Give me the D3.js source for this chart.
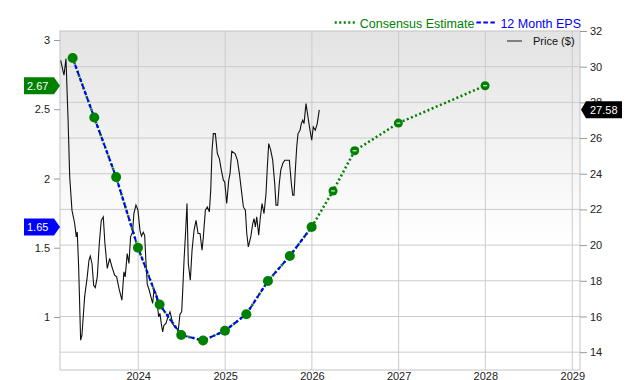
<!DOCTYPE html>
<html>
<head>
<meta charset="utf-8">
<script src="https://cdn.jsdelivr.net/npm/d3@7"></script>
<style>
  body { margin: 0; background: #fff; }
  svg { font-family: "Liberation Sans", Arial, sans-serif; display: block; }
  .axis text { font-size: 11px; fill: #222; }
  .axis line { stroke: #999; }
  .axis path { display: none; }
</style>
</head>
<body>
<div id="container"></div>
<script>
/* DATA */
// price trace, decimal years and $ values
const priceYears = [2023.106, 2023.144, 2023.167, 2023.190, 2023.210, 2023.236, 2023.267, 2023.286, 2023.297, 2023.313,
  2023.336, 2023.351, 2023.382, 2023.412, 2023.432, 2023.447, 2023.467, 2023.486, 2023.505, 2023.528,
  2023.551, 2023.574, 2023.597, 2023.616, 2023.643, 2023.671, 2023.697, 2023.728, 2023.751, 2023.778,
  2023.812, 2023.835, 2023.850, 2023.873, 2023.893, 2023.912, 2023.935, 2023.950, 2023.974, 2023.997,
  2024.020, 2024.037, 2024.058, 2024.074, 2024.089, 2024.104, 2024.127, 2024.146, 2024.166, 2024.181,
  2024.204, 2024.219, 2024.235, 2024.250, 2024.265, 2024.281, 2024.296, 2024.319, 2024.342, 2024.365,
  2024.380, 2024.396, 2024.419, 2024.442, 2024.461, 2024.480, 2024.500, 2024.512, 2024.527, 2024.546,
  2024.561, 2024.576, 2024.599, 2024.619, 2024.642, 2024.665, 2024.688, 2024.711, 2024.734, 2024.749,
  2024.772, 2024.795, 2024.818, 2024.834, 2024.849, 2024.864, 2024.887, 2024.910, 2024.933, 2024.956,
  2024.979, 2024.995, 2025.018, 2025.041, 2025.056, 2025.076, 2025.114, 2025.141, 2025.164, 2025.187,
  2025.210, 2025.233, 2025.249, 2025.267, 2025.295, 2025.318, 2025.333, 2025.348, 2025.364, 2025.387,
  2025.402, 2025.425, 2025.448, 2025.471, 2025.486, 2025.502, 2025.525, 2025.548, 2025.571, 2025.586,
  2025.606, 2025.624, 2025.641, 2025.664, 2025.687, 2025.717, 2025.740, 2025.763, 2025.779, 2025.794,
  2025.809, 2025.825, 2025.840, 2025.863, 2025.878, 2025.894, 2025.909, 2025.932, 2025.955, 2025.978,
  2025.998, 2026.016, 2026.039, 2026.062, 2026.085];
const priceValues = [30.36, 29.52, 30.45, 27.18, 23.82, 21.96, 21.21, 20.46, 20.74, 18.78,
  14.67, 14.95, 17.10, 18.22, 19.15, 19.38, 18.97, 17.75, 17.62, 18.22,
  20.09, 21.39, 21.58, 20.09, 18.69, 19.25, 18.78, 18.31, 18.22, 17.57,
  16.91, 18.50, 18.22, 19.53, 18.97, 20.46, 20.74, 21.77, 22.24, 21.96,
  20.83, 20.50, 20.72, 20.55, 19.04, 17.81, 17.47, 17.10, 16.73, 17.47,
  17.29, 16.73, 15.98, 16.17, 15.61, 15.14, 15.51, 15.61, 15.98, 16.26,
  15.98, 15.61, 15.42, 15.33, 15.23, 16.13, 16.26, 17.47, 19.15, 20.83,
  22.33, 18.97, 18.03, 19.71, 20.83, 21.39, 20.65, 20.65, 19.71, 20.46,
  21.96, 22.14, 21.86, 23.08, 25.32, 26.25, 26.25, 25.13, 24.85, 24.20,
  23.64, 23.54, 22.33, 23.64, 24.01, 25.26, 25.13, 24.76, 24.01, 23.08,
  22.14, 21.96, 20.65, 19.90, 20.46, 21.21, 21.49, 21.02, 21.58, 20.55,
  21.39, 22.33, 21.77, 22.89, 24.38, 25.69, 25.32, 24.76, 23.45, 22.24,
  22.24, 23.45, 24.20, 24.57, 24.76, 24.76, 24.76, 23.45, 22.80, 22.80,
  24.20, 25.50, 26.25, 26.44, 26.81, 27.00, 26.81, 27.93, 27.18, 26.44,
  25.88, 26.62, 26.44, 26.81, 27.58];

// 12 month EPS (reported) and consensus estimates
const epsDates = ["2023-03-31", "2023-06-30", "2023-09-30", "2023-12-31", "2024-03-31", "2024-06-30",
  "2024-09-30", "2024-12-31", "2025-03-31", "2025-06-30", "2025-09-30", "2025-12-31"];
const epsValues = [2.87, 2.44, 2.01, 1.50, 1.09, 0.87, 0.83, 0.90, 1.02, 1.26, 1.44, 1.65];
const estDates = ["2026-03-31", "2026-06-30", "2026-12-31", "2027-12-31"];
const estValues = [1.91, 2.20, 2.40, 2.67];

const epsTicks = [1, 1.5, 2, 2.5, 3];
const priceTicks = [14, 16, 18, 20, 22, 24, 26, 28, 30, 32];
const yearTicks = [2024, 2025, 2026, 2027, 2028, 2029];

/* CONSTANTS */
const width = 640, height = 380;
const plotL = 60, plotR = 580, plotT = 31, plotB = 370;
const green = "#008000", blue = "#0000ff";

function yearToDate(t) {
  const y = Math.floor(t);
  const a = new Date(y, 0, 1), b = new Date(y + 1, 0, 1);
  return new Date(+a + (t - y) * (b - a));
}
const parse = d3.timeParse("%Y-%m-%d");

const price = priceYears.map((t, i) => ({ date: yearToDate(t), value: priceValues[i] }));
const eps = epsDates.map((d, i) => ({ date: parse(d), value: epsValues[i], est: false }));
const est = estDates.map((d, i) => ({ date: parse(d), value: estValues[i], est: true }));
const allEps = eps.concat(est);

/* SCALES */
const x = d3.scaleTime()
  .domain([yearToDate(2023.098), yearToDate(2029.089)])
  .range([plotL, plotR]);
const yEps = d3.scaleLinear().domain([0.617, 3.065]).range([plotB, plotT]);
const yPrice = d3.scaleLinear().domain([13, 32]).range([plotB, plotT]);

/* SVG */
const svg = d3.select("#container").append("svg")
  .attr("width", width).attr("height", height);

const grad = svg.append("defs").append("linearGradient")
  .attr("id", "bg").attr("x1", 0).attr("y1", 0).attr("x2", 0).attr("y2", 1);
grad.append("stop").attr("offset", "0%").attr("stop-color", "#e3e3e3");
grad.append("stop").attr("offset", "62%").attr("stop-color", "#ffffff");

svg.append("rect")
  .attr("x", plotL).attr("y", plotT)
  .attr("width", plotR - plotL).attr("height", plotB - plotT)
  .attr("fill", "url(#bg)");

// grid
svg.append("g").selectAll("line")
  .data(priceTicks.slice(0, -1))
  .join("line")
  .attr("x1", plotL).attr("x2", plotR)
  .attr("y1", d => yPrice(d)).attr("y2", d => yPrice(d))
  .attr("stroke", "#cbcbcb");

svg.append("g").selectAll("line")
  .data(yearTicks)
  .join("line")
  .attr("x1", d => x(new Date(d, 0, 1))).attr("x2", d => x(new Date(d, 0, 1)))
  .attr("y1", plotT).attr("y2", plotB)
  .attr("stroke", "#cbcbcb");

svg.append("rect")
  .attr("x", plotL).attr("y", plotT)
  .attr("width", plotR - plotL).attr("height", plotB - plotT)
  .attr("fill", "none").attr("stroke", "#c4c4c4");

// axes
svg.append("g").attr("class", "axis")
  .attr("transform", `translate(${plotL},0)`)
  .call(d3.axisLeft(yEps).tickValues(epsTicks).tickSize(6).tickPadding(4).tickFormat(d3.format("")));

svg.append("g").attr("class", "axis")
  .attr("transform", `translate(${plotR},0)`)
  .call(d3.axisRight(yPrice).tickValues(priceTicks).tickSize(7).tickPadding(3));

svg.append("g").attr("class", "axis")
  .attr("transform", `translate(0,${plotB})`)
  .call(d3.axisBottom(x).tickValues(yearTicks.map(d => new Date(d, 0, 1)))
    .tickSize(0).tickPadding(2.5).tickFormat(d3.timeFormat("%Y")));

// price line
svg.append("path")
  .datum(price)
  .attr("fill", "none")
  .attr("stroke", "#111")
  .attr("stroke-width", 1.1)
  .attr("d", d3.line().x(d => x(d.date)).y(d => yPrice(d.value)));

// eps lines
const epsLine = d3.line().x(d => x(d.date)).y(d => yEps(d.value));
svg.append("path")
  .datum(allEps)
  .attr("fill", "none")
  .attr("stroke", green)
  .attr("stroke-width", 2.5)
  .attr("stroke-dasharray", "2,2.5")
  .attr("d", epsLine);
svg.append("path")
  .datum(eps)
  .attr("fill", "none")
  .attr("stroke", blue)
  .attr("stroke-width", 2)
  .attr("stroke-dasharray", "4.5,2.5")
  .attr("d", epsLine);

// markers
svg.append("g").selectAll("circle")
  .data(allEps)
  .join("circle")
  .attr("cx", d => x(d.date)).attr("cy", d => yEps(d.value))
  .attr("r", d => d.est ? 4.5 : 5)
  .attr("fill", green);
svg.append("g").selectAll("line")
  .data(est)
  .join("line")
  .attr("x1", d => x(d.date) - 2).attr("x2", d => x(d.date) + 2)
  .attr("y1", d => yEps(d.value)).attr("y2", d => yEps(d.value))
  .attr("stroke", "#fff").attr("stroke-width", 1);

// badges on the axes
function leftBadge(v, color) {
  const y = yEps(v);
  svg.append("path")
    .attr("d", `M24,${y - 8.5}H54L${plotL},${y}L54,${y + 8.5}H24Z`)
    .attr("fill", color);
  svg.append("text")
    .attr("x", 27).attr("y", y + 4)
    .attr("fill", "#fff").style("font-size", "11px")
    .text(v.toFixed(2));
}
leftBadge(estValues[estValues.length - 1], green);
leftBadge(epsValues[epsValues.length - 1], blue);

const lastPrice = priceValues[priceValues.length - 1];
const py = yPrice(lastPrice);
svg.append("path")
  .attr("d", `M${plotR + 1},${py}L${plotR + 6},${py - 8.5}H622V${py + 8.5}H${plotR + 6}Z`)
  .attr("fill", "#000");
svg.append("text")
  .attr("x", 590).attr("y", py + 4)
  .attr("fill", "#fff").style("font-size", "11px")
  .text(lastPrice.toFixed(2));

// legend, right aligned above the plot
const lg = svg.append("g");
const t2 = lg.append("text").attr("x", 581).attr("y", 27.5)
  .attr("text-anchor", "end").attr("fill", blue).style("font-size", "12.5px")
  .text("12 Month EPS");
const w2 = t2.node().getComputedTextLength();
lg.append("line")
  .attr("x1", 581 - w2 - 24).attr("x2", 581 - w2 - 3)
  .attr("y1", 22.5).attr("y2", 22.5)
  .attr("stroke", blue).attr("stroke-width", 2).attr("stroke-dasharray", "4.5,2.5");
const xEnd1 = 581 - w2 - 26;
const t1 = lg.append("text").attr("x", xEnd1).attr("y", 27.5)
  .attr("text-anchor", "end").attr("fill", green).style("font-size", "12.5px")
  .text("Consensus Estimate");
const w1 = t1.node().getComputedTextLength();
lg.append("line")
  .attr("x1", xEnd1 - w1 - 25).attr("x2", xEnd1 - w1 - 5)
  .attr("y1", 22.5).attr("y2", 22.5)
  .attr("stroke", green).attr("stroke-width", 2.5).attr("stroke-dasharray", "2,2.5");

lg.append("line")
  .attr("x1", 507).attr("x2", 522).attr("y1", 41).attr("y2", 41)
  .attr("stroke", "#808080").attr("stroke-width", 2);
lg.append("text").attr("x", 533).attr("y", 45)
  .attr("fill", "#111").style("font-size", "11px")
  .text("Price ($)");
</script>
</body>
</html>
